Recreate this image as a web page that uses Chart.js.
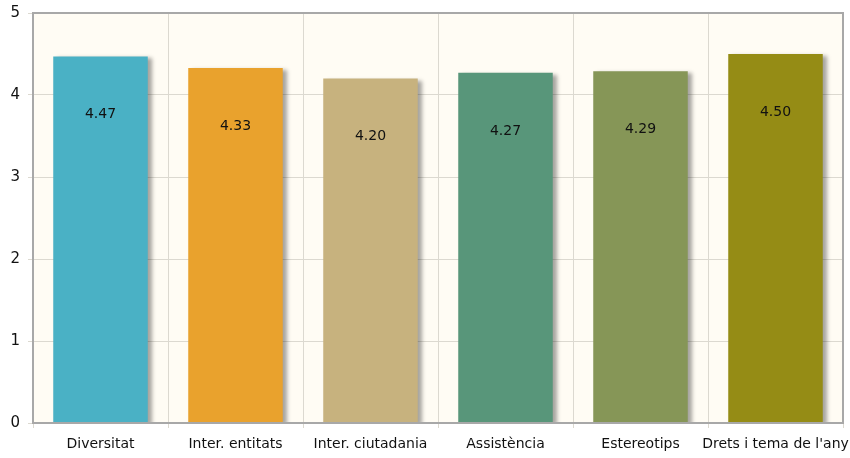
<!DOCTYPE html>
<html>
<head>
<meta charset="utf-8">
<script src="https://cdn.jsdelivr.net/npm/chart.js@4/dist/chart.umd.min.js"></script>
<style>
  html, body { margin: 0; padding: 0; background: #fff; }
  #wrap { width: 850px; height: 458px; }
</style>
</head>
<body>
<div id="wrap"><canvas id="c" width="850" height="458"></canvas></div>
<script>
// dades
const categories = ["Diversitat", "Inter. entitats", "Inter. ciutadania", "Assistència", "Estereotips", "Drets i tema de l'any"];
const values = [4.47, 4.33, 4.20, 4.27, 4.29, 4.50];
const barColors = ["#4ab1c5", "#e9a22d", "#c7b27e", "#58967a", "#869657", "#958c15"];
const yTicks = [0, 1, 2, 3, 4, 5];

// fons i marc de l'àrea del gràfic
const areaPlugin = {
  id: "area",
  beforeDraw(chart) {
    const { ctx, chartArea: a } = chart;
    ctx.save();
    ctx.fillStyle = "#fffcf4";
    ctx.fillRect(a.left, a.top, a.right - a.left, a.bottom - a.top);
    ctx.restore();
  },
  afterDatasetsDraw(chart) {
    const { ctx, chartArea: a } = chart;
    ctx.save();
    ctx.strokeStyle = "#a8a8a8";
    ctx.lineWidth = 2;
    ctx.strokeRect(a.left, a.top, a.right - a.left, a.bottom - a.top);
    ctx.restore();
  }
};

// ombra de les barres
const shadowPlugin = {
  id: "shadow",
  beforeDatasetDraw(chart) {
    const ctx = chart.ctx;
    ctx.save();
    ctx.shadowColor = "rgba(0,0,0,0.35)";
    ctx.shadowOffsetX = 4;
    ctx.shadowOffsetY = 2;
    ctx.shadowBlur = 4;
  },
  afterDatasetDraw(chart) {
    chart.ctx.restore();
  }
};

// etiquetes de valor dins les barres
const labelPlugin = {
  id: "valueLabels",
  afterDraw(chart) {
    const { ctx } = chart;
    const meta = chart.getDatasetMeta(0);
    ctx.save();
    ctx.font = "14px 'DejaVu Sans'";
    ctx.fillStyle = "#111";
    ctx.textAlign = "center";
    ctx.textBaseline = "middle";
    meta.data.forEach((bar, i) => {
      ctx.fillText(values[i].toFixed(2), bar.x, bar.y + 58);
    });
    ctx.restore();
  }
};

new Chart(document.getElementById("c"), {
  type: "bar",
  data: {
    labels: categories,
    datasets: [{
      data: values,
      backgroundColor: barColors,
      borderWidth: 0,
      barPercentage: 0.7,
      categoryPercentage: 1.0
    }]
  },
  options: {
    responsive: false,
    animation: false,
    layout: { padding: { top: 13, right: 7, left: 0, bottom: 0 } },
    plugins: {
      legend: { display: false },
      tooltip: { enabled: false }
    },
    scales: {
      x: {
        afterFit(s) { s.height = 35; s.paddingLeft = 0; s.paddingRight = 0; },
        grid: { color: "#dcd9d0", tickLength: 5, offset: true },
        border: { color: "#a8a8a8", width: 2 },
        ticks: {
          color: "#111",
          font: { family: "DejaVu Sans", size: 14 },
          padding: 8,
          maxRotation: 0,
          autoSkip: false
        }
      },
      y: {
        min: 0,
        max: 5,
        afterFit(s) { s.width = 33; s.paddingTop = 0; s.paddingBottom = 0; },
        afterBuildTicks(s) { s.ticks = yTicks.map(v => ({ value: v })); },
        grid: { color: "#dcd9d0", tickLength: 5 },
        border: { color: "#a8a8a8", width: 2 },
        ticks: {
          color: "#111",
          font: { family: "DejaVu Sans", size: 15 },
          padding: 8
        }
      }
    }
  },
  plugins: [areaPlugin, shadowPlugin, labelPlugin]
});
</script>
</body>
</html>
